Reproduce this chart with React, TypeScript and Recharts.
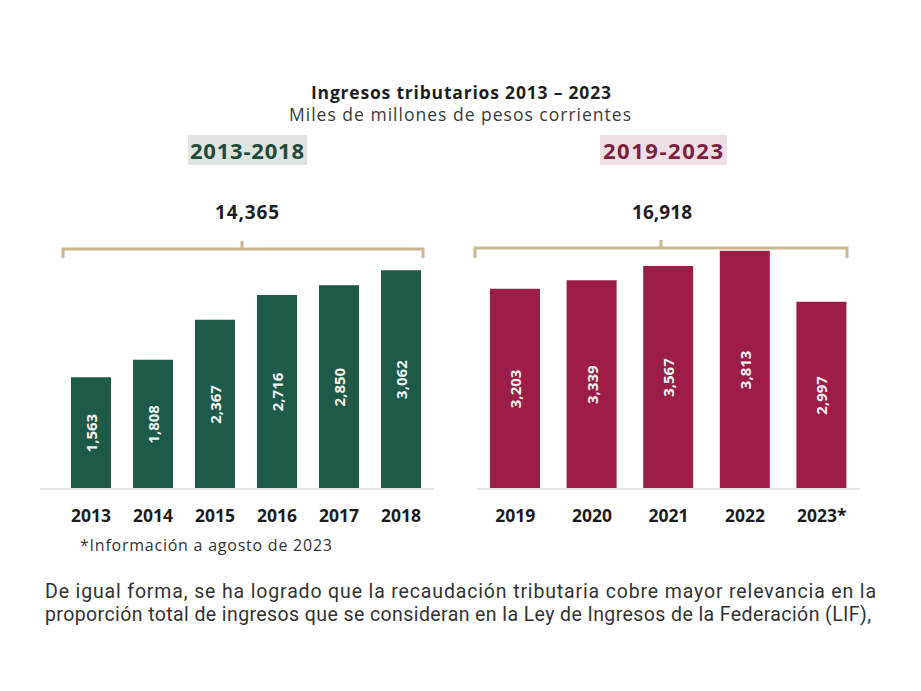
import { Bar, BarChart, LabelList, XAxis, YAxis } from "recharts";

const yearsA = ["2013", "2014", "2015", "2016", "2017", "2018"];
const valuesA = [1563, 1808, 2367, 2716, 2850, 3062];
const yearsB = ["2019", "2020", "2021", "2022", "2023*"];
const valuesB = [3203, 3339, 3567, 3813, 2997];
const totalA = "14,365";
const totalB = "16,918";

const GREEN = "#1e5a49";
const WINE = "#9c1d47";
const HEAD = "'Open Sans', 'DejaVu Sans', sans-serif";

const rowsA = yearsA.map((year, i) => ({ year, value: valuesA[i] }));
const rowsB = yearsB.map((year, i) => ({ year, value: valuesB[i] }));

const fmt = (v: number) => String(v).replace(/\B(?=(\d{3})+(?!\d))/g, ",");

function VerticalValue(props: any) {
  const { x, y, width, height, value } = props;
  const cx = x + width / 2;
  const cy = y + height / 2;
  return (
    <text
      x={cx}
      y={cy}
      transform={`rotate(-90 ${cx} ${cy})`}
      textAnchor="middle"
      dominantBaseline="central"
      fill="#eef1ee"
      fontSize={15}
      fontWeight={700}
      fontFamily={HEAD}
    >
      {fmt(value)}
    </text>
  );
}

function YearTick({ x, y, payload }: any) {
  return (
    <text x={x} y={y} dy={33} textAnchor="middle" fill="#1c1c1c" fontSize={17.5} fontWeight={700} fontFamily={HEAD}>
      {payload.value}
    </text>
  );
}

function Period({ data, max, color, width, height, barSize, padding }: any) {
  return (
    <BarChart width={width} height={height} data={data} margin={{ top: 0, right: 0, left: 0, bottom: 0 }}>
      <XAxis
        dataKey="year"
        height={40}
        tickLine={false}
        tickSize={0}
        tickMargin={0}
        axisLine={{ stroke: "#e6e6e6", strokeWidth: 2 }}
        tick={<YearTick />}
        padding={padding}
        interval={0}
      />
      <YAxis hide domain={[0, max]} />
      <Bar dataKey="value" fill={color} barSize={barSize} isAnimationActive={false}>
        <LabelList dataKey="value" content={<VerticalValue />} />
      </Bar>
    </BarChart>
  );
}

export default function App() {
  return (
    <div style={{ position: "relative", width: 905, height: 675, background: "#fff" }}>
      <div style={{ position: "absolute", left: 32, top: 238 }}>
        <Period data={rowsA} max={3400} color={GREEN} width={394} height={283} barSize={40} padding={{ left: 20, right: 2 }} />
      </div>
      <div style={{ position: "absolute", left: 469, top: 231 }}>
        <Period data={rowsB} max={4000} color={WINE} width={383} height={290} barSize={50} padding={{ left: 0, right: 0 }} />
      </div>
      <svg width={921} height={691} style={{ position: "absolute", left: -8, top: -8, pointerEvents: "none" }}>
        <text x={461} y={99} textAnchor="middle" fontSize={17.5} fontWeight={700} fill="#1e1e1e" fontFamily={HEAD} textLength={300}>
          Ingresos tributarios 2013 – 2023
        </text>
        <text x={460} y={121} textAnchor="middle" fontSize={17.5} fill="#3a3a3a" fontFamily={HEAD} textLength={342}>
          Miles de millones de pesos corrientes
        </text>

        <rect x={188} y={135} width={119} height={30} fill="#dfe4e0" />
        <text x={247} y={159} textAnchor="middle" fontSize={22} fontWeight={700} fill="#1f4b3d" fontFamily={HEAD} textLength={114}>
          2013-2018
        </text>
        <rect x={600} y={135} width={127} height={30} fill="#eedfe4" />
        <text x={663} y={159} textAnchor="middle" fontSize={22} fontWeight={700} fill="#7e1e41" fontFamily={HEAD} textLength={120}>
          2019-2023
        </text>

        <text x={247} y={219} textAnchor="middle" fontSize={19} fontWeight={700} fill="#1e1e1e" fontFamily={HEAD} textLength={64}>
          {totalA}
        </text>
        <text x={662} y={219} textAnchor="middle" fontSize={19} fontWeight={700} fill="#1e1e1e" fontFamily={HEAD} textLength={60}>
          {totalB}
        </text>

        <path d="M63 258 V249 H423 V258 M242 249 V241" fill="none" stroke="#ccb88f" strokeWidth={3} />
        <path d="M475 258 V248 H847 V258 M661 248 V240" fill="none" stroke="#ccb88f" strokeWidth={3} />

        <text x={80} y={551} fontSize={16} fill="#333" fontFamily={HEAD} textLength={252}>
          *Información a agosto de 2023
        </text>

        <text x={45} y={598} fontSize={19.5} fill="#333" fontFamily="Roboto, sans-serif" textLength={831}>
          De igual forma, se ha logrado que la recaudación tributaria cobre mayor relevancia en la
        </text>
        <text x={45} y={621} fontSize={19.5} fill="#333" fontFamily="Roboto, sans-serif" textLength={826}>
          proporción total de ingresos que se consideran en la Ley de Ingresos de la Federación (LIF),
        </text>
      </svg>
    </div>
  );
}
